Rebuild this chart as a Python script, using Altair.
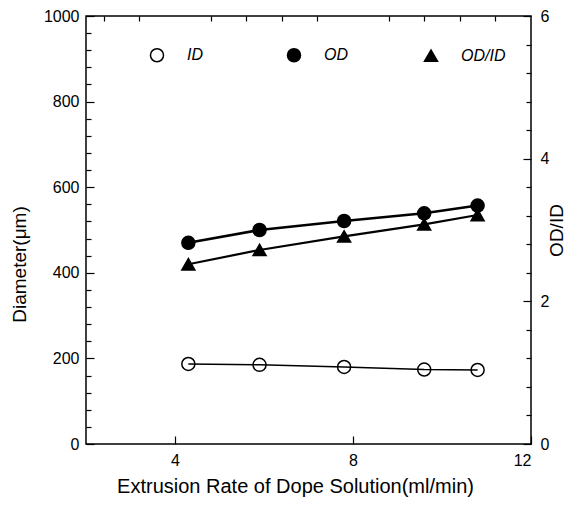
import altair as alt
import pandas as pd

# ---- data ----
rate = [4.3, 5.9, 7.8, 9.6, 10.8]
inner_d = [187, 185, 180, 174, 173]
outer_d = [470, 500, 521, 539, 557]
ratio = [2.52, 2.72, 2.91, 3.08, 3.21]
series_names = ["ID", "OD", "OD/ID"]

x_major = [4, 8, 12]
x_minor = [2.4, 3.2, 4.8, 5.6, 6.4, 7.2, 8.8, 9.6, 10.4, 11.2]
y_major = [0, 200, 400, 600, 800, 1000]
y_minor = [40, 80, 120, 160, 240, 280, 320, 360, 440, 480, 520, 560,
           640, 680, 720, 760, 840, 880, 920, 960]
r_major = [0, 2, 4, 6]
r_minor = [0.4, 0.8, 1.2, 1.6, 2.4, 2.8, 3.2, 3.6, 4.4, 4.8, 5.2, 5.6]

diam = pd.DataFrame({
    "rate": rate + rate,
    "value": inner_d + outer_d,
    "series": ["ID"] * len(rate) + ["OD"] * len(rate),
})
rat = pd.DataFrame({"rate": rate, "value": ratio, "series": ["OD/ID"] * len(rate)})

FONT = "Liberation Sans"
MAJ, MIN = 8, 5

xscale = alt.Scale(domain=[2, 12], nice=False, zero=False)
yscale = alt.Scale(domain=[0, 1000], nice=False)
rscale = alt.Scale(domain=[0, 6], nice=False)

x_main = alt.X("rate:Q", scale=xscale, axis=alt.Axis(
    values=x_major, tickSize=MAJ, offset=-MAJ, domain=False, grid=False, format="d",
    title="Extrusion Rate of Dope Solution(ml/min)", labelPadding=8, titlePadding=8,
    titleX=209, titleFontSize=20))
x_none = alt.X("rate:Q", scale=xscale, axis=None)
x_minor_enc = alt.X("rate:Q", scale=xscale, axis=alt.Axis(
    values=x_minor, tickSize=MIN, offset=-MIN, domain=False, grid=False,
    labels=False, title=None))

legend = alt.Legend(
    orient="none", legendX=63, legendY=31, direction="horizontal", title=None,
    labelFont=FONT, labelFontStyle="italic", labelFontSize=16, labelOffset=22,
    columnPadding=52, gridAlign="all", symbolStrokeColor="black",
    symbolStrokeWidth=1.5, padding=0)

shape = alt.Shape("series:N", scale=alt.Scale(domain=series_names,
                  range=["circle", "circle", "triangle-up"]), legend=legend)
fill = alt.Fill("series:N", scale=alt.Scale(domain=series_names,
                range=["transparent", "black", "black"]), legend=legend)
stroke = alt.Stroke("series:N", scale=alt.Scale(domain=series_names,
                    range=["black", "black", "black"]), legend=legend)
size = alt.Size("series:N", scale=alt.Scale(domain=series_names,
                range=[170, 170, 240]), legend=legend)

y_left = alt.Y("value:Q", scale=yscale, axis=alt.Axis(
    values=y_major, tickSize=MAJ, offset=-MAJ, domain=False, grid=False, format="d",
    orient="left", title="Diameter(μm)", labelPadding=7, titlePadding=14,
    titleY=248))
y_right = alt.Y("value:Q", scale=rscale, axis=alt.Axis(
    values=r_major, tickSize=MAJ, offset=-MAJ, domain=False, grid=False, format="d",
    orient="right", title="OD/ID", titleAngle=270, titleBaseline="bottom",
    labelPadding=9, titlePadding=18))

id_line = alt.Chart(diam).transform_filter(alt.datum.series == "ID").mark_line(
    color="black", strokeWidth=1.5).encode(x=x_main, y=y_left)
od_line = alt.Chart(diam).transform_filter(alt.datum.series == "OD").mark_line(
    color="black", strokeWidth=2.5).encode(x=x_main, y=y_left)
diam_pts = alt.Chart(diam).mark_point(strokeWidth=1.5, opacity=1).encode(
    x=x_main, y=y_left, shape=shape, fill=fill, stroke=stroke, size=size)
layer_d = alt.layer(id_line, od_line, diam_pts)

rat_line = alt.Chart(rat).mark_line(color="black", strokeWidth=2.2).encode(
    x=x_none, y=y_right)
rat_pts = alt.Chart(rat).mark_point(strokeWidth=1.5, opacity=1).encode(
    x=x_none, y=y_right, shape=shape, fill=fill, stroke=stroke, size=size)
layer_r = alt.layer(rat_line, rat_pts)

minor_left = alt.Chart(diam).mark_point(opacity=0).encode(
    x=x_minor_enc,
    y=alt.Y("value:Q", scale=yscale, axis=alt.Axis(
        values=y_minor, tickSize=MIN, offset=-MIN, domain=False, grid=False,
        orient="left", labels=False, title=None)))
minor_right = alt.Chart(rat).mark_point(opacity=0).encode(
    x=x_none,
    y=alt.Y("value:Q", scale=rscale, axis=alt.Axis(
        values=r_minor, tickSize=MIN, offset=-MIN, domain=False, grid=False,
        orient="right", labels=False, title=None)))

chart = alt.layer(layer_d, layer_r, minor_left, minor_right).resolve_scale(
    y="independent"
).resolve_axis(
    x="independent", y="independent"
).properties(
    width=445, height=428,
    autosize=alt.AutoSizeParams(type="none"),
    padding={"left": 78, "top": 8, "right": 38, "bottom": 53},
    background="white"
).configure_view(
    stroke="black", strokeWidth=1.5
).configure_axis(
    labelFont=FONT, labelFontSize=16, labelColor="black",
    titleFont=FONT, titleFontSize=19, titleFontWeight="normal", titleColor="black",
    tickColor="black", tickWidth=1.2
)

chart.save("out.html", embed_options={"renderer": "svg", "actions": False})
